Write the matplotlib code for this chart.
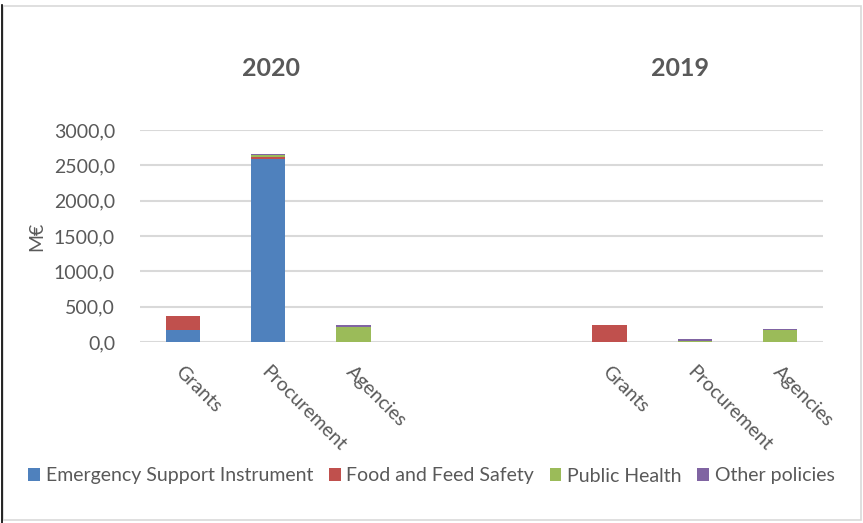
import numpy as np
import matplotlib.pyplot as plt
import matplotlib.transforms as mtransforms
from matplotlib.patches import Rectangle
from matplotlib.lines import Line2D

plt.rcParams['font.family'] = ['Lato', 'DejaVu Sans']

categories = ["Grants", "Procurement", "Agencies"]
years = ["2020", "2019"]
series = ["Emergency Support Instrument", "Food and Feed Safety", "Public Health", "Other policies"]
colors = ["#4F81BD", "#C0504D", "#9BBB59", "#8064A2"]

# values in M€, per category (Grants, Procurement, Agencies)
esi_2020 = [175, 2592, 0]
ffs_2020 = [188, 25, 0]
ph_2020 = [0, 25, 217]
oth_2020 = [0, 15, 18]

esi_2019 = [0, 0, 0]
ffs_2019 = [241, 3, 0]
ph_2019 = [0, 15, 170]
oth_2019 = [0, 22, 18]

yticks = [0, 500, 1000, 1500, 2000, 2500, 3000]

grey = "#595959"

fig = plt.figure(figsize=(8.63, 5.23), dpi=100)
ax = fig.add_axes([140/863, 1-342/523, (823-140)/863, (342-130)/523])

x20 = np.arange(3)
x19 = np.arange(3) + 5
data20 = [esi_2020, ffs_2020, ph_2020, oth_2020]
data19 = [esi_2019, ffs_2019, ph_2019, oth_2019]

for xs, data in [(x20, data20), (x19, data19)]:
    bottom = np.zeros(3)
    for name, vals, c in zip(series, data, colors):
        ax.bar(xs, vals, 0.4, bottom=bottom, color=c, label=name if xs is x20 else None, zorder=3)
        bottom += np.array(vals)

ax.set_xlim(-0.5, 7.5)
ax.set_ylim(0, 3000)
ax.set_yticks(yticks)
ax.set_yticklabels([f"{v:.1f}".replace(".", ",") for v in yticks], color=grey, fontsize=14)
ax.tick_params(axis='y', length=0, pad=18)
ax.grid(axis='y', color="#d9d9d9", linewidth=1.5, zorder=0)
for s in ax.spines.values():
    s.set_visible(False)

ax.set_xticks(list(x20) + list(x19))
ax.set_xticklabels([])
ax.tick_params(axis='x', length=0)
trans = mtransforms.blended_transform_factory(ax.transData, ax.transAxes)
for xs in (x20, x19):
    for xi, lab in zip(xs, categories):
        ax.text(xi + 0.02, -0.1, lab, transform=trans, rotation=-45, rotation_mode='anchor',
                ha='left', va='top', fontsize=14, color=grey)

ax.set_ylabel("M€", fontsize=14, color=grey, labelpad=6)

ytr = mtransforms.blended_transform_factory(ax.transData, fig.transFigure)
ax.text(1.03, 1-69/523, years[0], transform=ytr, ha='center', va='center',
        fontsize=18, fontweight='bold', color=grey)
ax.text(5.82, 1-69/523, years[1], transform=ytr, ha='center', va='center',
        fontsize=18, fontweight='bold', color=grey)

leg = fig.legend(loc='center', bbox_to_anchor=(0.5, 1-476/523), ncol=4, frameon=False,
                 fontsize=14, handlelength=0.6, handleheight=0.6, handletextpad=0.3,
                 columnspacing=0.8, labelcolor=grey)

# chart border
fig.add_artist(Rectangle((3/863, 3/523), 858/863, 514/523, transform=fig.transFigure,
                         fill=False, edgecolor="#d9d9d9", linewidth=1.2))
fig.add_artist(Line2D([2/863, 2/863], [0, 1-5/523], transform=fig.transFigure,
                      color="black", linewidth=1.2))

fig.savefig("out.png", dpi=100)
